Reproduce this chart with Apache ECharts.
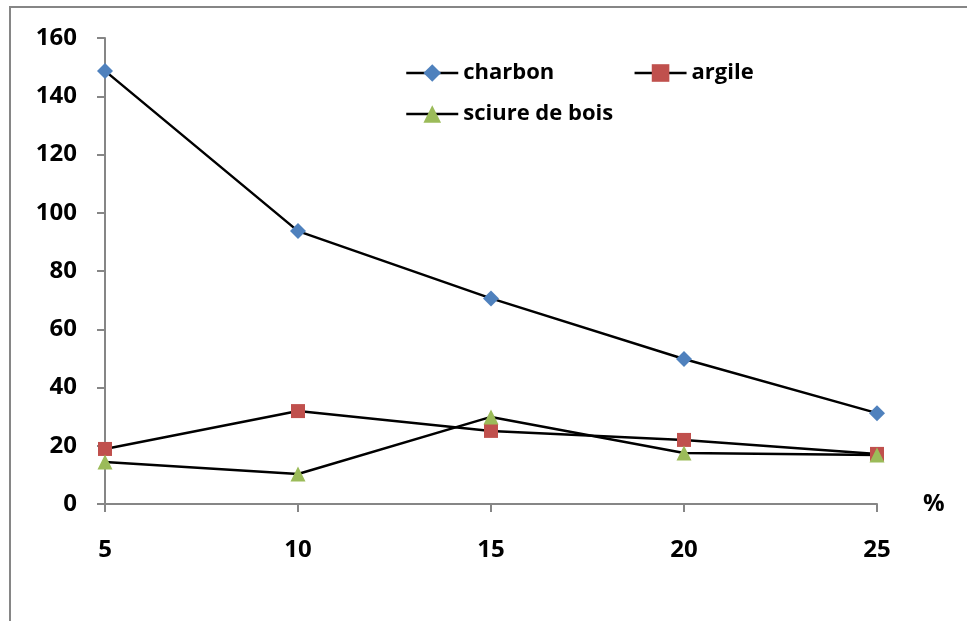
<!DOCTYPE html>
<html>
<head>
<meta charset="utf-8">
<script src="https://cdn.jsdelivr.net/npm/echarts@6/dist/echarts.min.js"></script>
<style>
  html, body { margin: 0; padding: 0; background: #fff; }
  #chart { width: 967px; height: 621px; }
</style>
</head>
<body>
<div id="chart"></div>
<script>
// Percentages on the horizontal axis
const categories = ['5', '10', '15', '20', '25'];
// Series values
const charbon = [148.7, 93.7, 70.6, 49.8, 31.2];
const argile = [18.9, 31.9, 25.1, 22.0, 17.2];
const sciure = [14.4, 10.3, 29.9, 17.5, 16.8];

const axisGrey = '#868686';
const fontFamily = '"Open Sans", "Noto Sans", sans-serif';

function lineSeries(name, data, symbol, color, size) {
  return {
    name: name,
    type: 'line',
    data: data,
    symbol: symbol,
    symbolSize: size,
    showAllSymbol: true,
    lineStyle: { color: '#000', width: 2.5 },
    itemStyle: { color: color },
    emphasis: { disabled: true },
    animation: false
  };
}

const legendText = { fontFamily: fontFamily, fontWeight: 'bold', fontSize: 22, color: '#000' };

const chart = echarts.init(document.getElementById('chart'));
chart.setOption({
  backgroundColor: '#fff',
  animation: false,
  graphic: [{
    type: 'rect',
    shape: { x: 10, y: 7, width: 1200, height: 900 },
    style: { fill: 'none', stroke: axisGrey, lineWidth: 2 },
    silent: true,
    z: -10
  }],
  legend: [{
    data: ['charbon', 'argile'],
    left: 400,
    top: 57,
    padding: [5, 5, 5, 5],
    orient: 'horizontal',
    itemWidth: 52,
    itemHeight: 22,
    itemGap: 79,
    lineStyle: { width: 2.5 },
    textStyle: legendText
  }, {
    data: ['sciure de bois'],
    left: 400,
    top: 98,
    padding: [5, 5, 5, 5],
    itemWidth: 52,
    itemHeight: 22,
    lineStyle: { width: 2.5 },
    textStyle: legendText
  }],
  grid: { left: 105, right: 90, top: 38, bottom: 117, containLabel: false },
  xAxis: {
    type: 'category',
    data: categories,
    boundaryGap: false,
    name: '%',
    nameLocation: 'end',
    nameGap: 46,
    nameTextStyle: { fontFamily: fontFamily, fontWeight: 'bold', fontSize: 24, color: '#000', verticalAlign: 'middle' },
    axisLine: { lineStyle: { color: axisGrey, width: 2 } },
    axisTick: { show: true, alignWithLabel: true, length: 8, lineStyle: { color: axisGrey, width: 2 } },
    axisLabel: { margin: 34, fontFamily: fontFamily, fontWeight: 'bold', fontSize: 24, color: '#000' },
    splitLine: { show: false }
  },
  yAxis: {
    type: 'value',
    min: 0,
    max: 160,
    interval: 20,
    axisLine: { show: true, lineStyle: { color: axisGrey, width: 2 } },
    axisTick: { show: true, length: 8, lineStyle: { color: axisGrey, width: 2 } },
    axisLabel: { margin: 28, fontFamily: fontFamily, fontWeight: 'bold', fontSize: 24, color: '#000' },
    splitLine: { show: false }
  },
  series: [
    lineSeries('charbon', charbon, 'diamond', '#4F81BD', 16),
    lineSeries('argile', argile, 'rect', '#C0504D', 14),
    lineSeries('sciure de bois', sciure, 'triangle', '#9BBB59', 15)
  ]
});
</script>
</body>
</html>
